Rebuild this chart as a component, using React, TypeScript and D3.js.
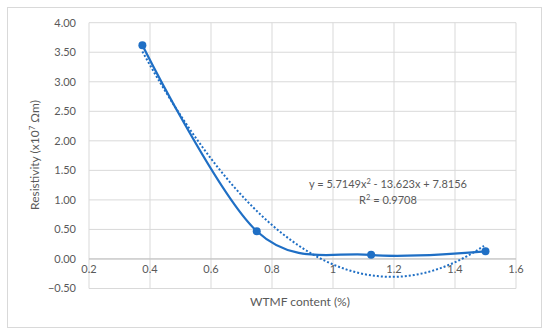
import React from 'react';
import * as d3 from 'd3';

const content = [0.375, 0.75, 1.125, 1.5];
const resistivity = [3.62, 0.47, 0.07, 0.13];
const xTicks = [0.2, 0.4, 0.6, 0.8, 1, 1.2, 1.4, 1.6];
const yTicks = [-0.5, 0, 0.5, 1, 1.5, 2, 2.5, 3, 3.5, 4];
// trendline coefficients shown on the chart: a x^2 + b x + c
const trendCoef = [5.7149, -13.623, 7.8156];

const W = 550;
const H = 335;
const blue = '#1f6fc5';
const grid = '#d9d9d9';
const txt = '#595959';
const font = 'Lato, "Open Sans", sans-serif';

const App = () => {
  const x = d3.scaleLinear().domain([0.2, 1.6]).range([89, 516]);
  const y = d3.scaleLinear().domain([-0.5, 4]).range([288.5, 22.7]);

  const pts: [number, number][] = content.map((c, i) => [c, resistivity[i]]);
  // spreadsheet "smoothed line" ~ uniform catmull-rom
  const line = d3.line<[number, number]>()
    .x(d => x(d[0]))
    .y(d => y(d[1]))
    .curve(d3.curveCardinal.tension(0));

  const trendX = d3.range(content[0], content[content.length - 1] + 0.001, 0.01);
  const trend = trendX.map(v => [v, trendCoef[0] * v * v + trendCoef[1] * v + trendCoef[2]] as [number, number]);
  const trendLine = d3.line<[number, number]>().x(d => x(d[0])).y(d => y(d[1]));

  return (
    <svg width={W} height={H} style={{ position: 'absolute', left: 0, top: 0 }}>
      <rect x={0} y={0} width={W} height={H} fill="#fff" />
      <rect x={7.5} y={7.5} width={534} height={320} fill="none" stroke="#d9d9d9" />

      {yTicks.map(t => (
        <line key={'h' + t} x1={x(0.2)} x2={x(1.6)} y1={y(t)} y2={y(t)} stroke={grid} strokeWidth={1} />
      ))}
      {xTicks.map(t => (
        <line key={'v' + t} x1={x(t)} x2={x(t)} y1={y(4)} y2={y(-0.5)} stroke={grid} strokeWidth={1} />
      ))}
      <line x1={x(0.2)} x2={x(1.6)} y1={y(0)} y2={y(0)} stroke="#bfbfbf" strokeWidth={1} />

      {yTicks.map(t => (
        <text key={'yl' + t} x={76} y={y(t)} dy="0.35em" textAnchor="end" fontSize={11} fill={txt} fontFamily={font}>
          {d3.format('.2f')(t)}
        </text>
      ))}
      {xTicks.map(t => (
        <text key={'xl' + t} x={x(t)} y={y(0) + 10} dy="0.35em" textAnchor="middle" fontSize={11} fill={txt} fontFamily={font}>
          {String(t)}
        </text>
      ))}

      <path d={trendLine(trend) || ''} fill="none" stroke={blue} strokeWidth={2} strokeDasharray="2 2" />
      <path d={line(pts) || ''} fill="none" stroke={blue} strokeWidth={2.25} />
      {pts.map((p, i) => (
        <circle key={i} cx={x(p[0])} cy={y(p[1])} r={4} fill={blue} />
      ))}

      <text x={388} y={184} dy="0.35em" textAnchor="middle" fontSize={11} fill={txt} fontFamily={font}>
        y = 5.7149x<tspan dy="-4" fontSize={7.5}>2</tspan><tspan dy="4"> - 13.623x + 7.8156</tspan>
      </text>
      <text x={388} y={200} dy="0.35em" textAnchor="middle" fontSize={11} fill={txt} fontFamily={font}>
        R<tspan dy="-4" fontSize={7.5}>2</tspan><tspan dy="4"> = 0.9708</tspan>
      </text>

      <text x={300} y={302} dy="0.35em" textAnchor="middle" fontSize={12} fill={txt} fontFamily={font}>
        WTMF content (%)
      </text>
      <text transform={`translate(35,${155}) rotate(-90)`} dy="0.35em" textAnchor="middle" fontSize={12} fill={txt} fontFamily={font}>
        Resistivity (x10<tspan dy="-4" fontSize={8}>7</tspan><tspan dy="4"> Ωm)</tspan>
      </text>
    </svg>
  );
};

export default App;
